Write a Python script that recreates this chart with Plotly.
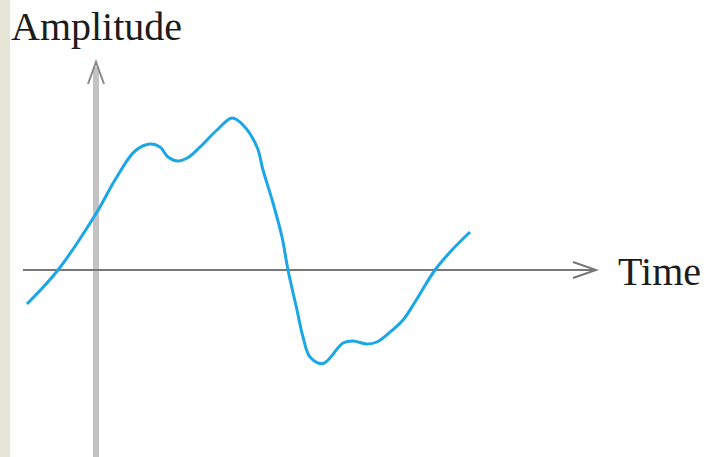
import plotly.graph_objects as go

# ── Data (time, amplitude) ────────────────────────────────────────────────────
time = [-1.38, -0.76, 0.02, 0.38, 0.78, 1.08, 1.28, 1.44, 1.64,
        1.84, 2.08, 2.42, 2.72, 2.94, 3.22, 3.34, 3.54, 3.72, 3.84, 4.02,
        4.14, 4.28, 4.54, 4.94, 5.14, 5.42, 5.62, 5.86, 6.14, 6.38,
        6.78, 7.12, 7.48]
amplitude = [-0.68, 0.0, 1.16, 1.80, 2.38, 2.52, 2.46, 2.26, 2.18,
             2.25, 2.46, 2.80, 3.04, 2.90, 2.46, 2.00, 1.34, 0.66, 0.0, -0.80,
             -1.34, -1.74, -1.87, -1.46, -1.42, -1.48, -1.44, -1.26,
             -1.00, -0.64, 0.0, 0.40, 0.76]

x_label = "Time"
y_label = "Amplitude"

# axis extents
t_axis = [-1.46, 10.0]
a_axis = [-4.0, 4.16]

X_RANGE = [-1.92, 12.18]
Y_RANGE = [-3.74, 5.4]

CURVE = "#1ba6e6"
H_AXIS = "#777777"
V_AXIS = "#c2c2c2"

fig = go.Figure()

# ── Axes drawn as shapes ──────────────────────────────────────────────────────
shapes = [
    # beige strip at left edge
    dict(type="rect", xref="paper", yref="paper", x0=0, x1=0.0142, y0=0, y1=1,
         fillcolor="#e6e6d6", line=dict(width=0), layer="below"),
    # vertical amplitude axis
    dict(type="line", x0=0, x1=0, y0=a_axis[0], y1=a_axis[1] - 0.1,
         line=dict(color=V_AXIS, width=6), layer="below"),
    # horizontal time axis
    dict(type="line", x0=t_axis[0], x1=t_axis[1], y0=0, y1=0,
         line=dict(color=H_AXIS, width=2), layer="below"),
]

# arrowheads (open chevrons)
tx = t_axis[1]
shapes.append(dict(type="path",
                   path=f"M {tx-0.46},0.16 L {tx},0 L {tx-0.46},-0.16",
                   line=dict(color=H_AXIS, width=2)))
ay = a_axis[1]
shapes.append(dict(type="path",
                   path=f"M -0.16,{ay-0.44} L 0,{ay} L 0.16,{ay-0.44}",
                   line=dict(color="#8a8a8a", width=2)))

fig.add_trace(go.Scatter(
    x=time, y=amplitude, mode="lines",
    line=dict(color=CURVE, width=3, shape="spline", smoothing=1.0),
    hoverinfo="skip", showlegend=False,
))

fig.add_annotation(text=y_label, x=-1.74, y=4.88, xref="x", yref="y",
                   xanchor="left", yanchor="middle", showarrow=False,
                   font=dict(family="Liberation Serif", size=40, color="#1c1c1c"))
fig.add_annotation(text=x_label, x=10.40, y=-0.02, xref="x", yref="y",
                   xanchor="left", yanchor="middle", showarrow=False,
                   font=dict(family="Liberation Serif", size=40, color="#1c1c1c"))

fig.update_layout(
    width=705, height=457,
    margin=dict(l=0, r=0, t=0, b=0),
    paper_bgcolor="white", plot_bgcolor="white",
    shapes=shapes,
    xaxis=dict(range=X_RANGE, visible=False, fixedrange=True),
    yaxis=dict(range=Y_RANGE, visible=False, fixedrange=True),
    showlegend=False,
)

fig.write_html("out.html", config={"displayModeBar": False},
               post_script="document.body.style.margin='0';")
